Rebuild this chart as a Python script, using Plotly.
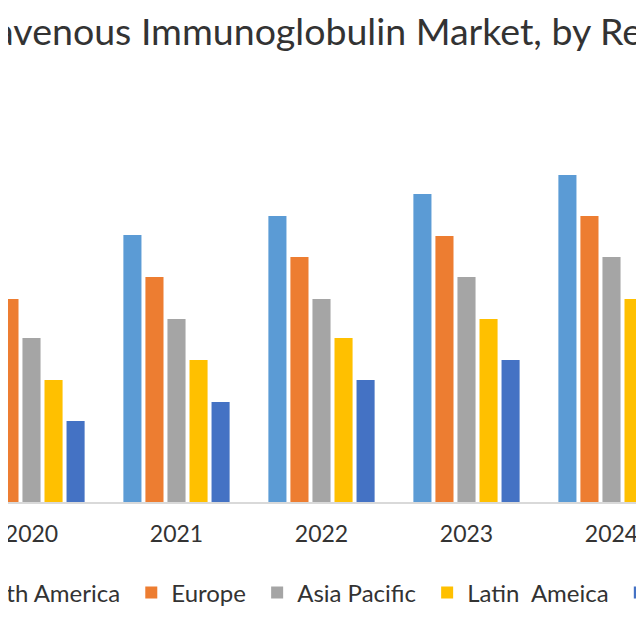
import plotly.graph_objects as go

years = [2020, 2021, 2022, 2023, 2024]
tick_labels = ["2020", "2021", "2022", "2023", "2024"]
north_america = [24.5, 26.7, 28.6, 30.8, 32.7]
europe = [20.3, 22.5, 24.5, 26.6, 28.6]
asia_pacific = [16.4, 18.3, 20.3, 22.5, 24.5]
latin_america = [12.2, 14.2, 16.4, 18.3, 20.3]
mea = [8.1, 10.0, 12.2, 14.2, 16.3]

series_names = ["North America", "Europe", "Asia Pacific", "Latin  Ameica", "Middle East & Africa"]
series_values = [north_america, europe, asia_pacific, latin_america, mea]
colors = ["#5B9BD5", "#ED7D31", "#A5A5A5", "#FFC000", "#4472C4"]

title_text = "Global Intravenous Immunoglobulin Market, by Region"
FONT = "Lato, 'Open Sans', sans-serif"
TXT = "#333333"

W, H = 1100, 636
fig = go.Figure()
for name, vals, col in zip(series_names, series_values, colors):
    fig.add_trace(go.Bar(x=years, y=vals, name=name + "\u00a0",
                         marker=dict(color=col, line=dict(width=0))))

x0 = 2020 - 23.5 / 145
fig.update_layout(
    width=W, height=H,
    margin=dict(l=0, r=0, t=72, b=142, autoexpand=False),
    paper_bgcolor="white", plot_bgcolor="white",
    barmode="group", bargap=0.24, bargroupgap=0.18,
    font=dict(family=FONT, color=TXT),
    showlegend=True,
    legend=dict(orientation="h", x=-82 / W, xanchor="left", y=-0.2156, yanchor="middle",
                font=dict(size=24, family=FONT, color=TXT), bgcolor="rgba(0,0,0,0)"),
    xaxis=dict(range=[x0, x0 + W / 145], tickmode="array", tickvals=years, ticktext=tick_labels,
               showline=True, linecolor="#D9D9D9", linewidth=2, showgrid=False, zeroline=False,
               ticks="", tickfont=dict(size=23, family=FONT, color=TXT), automargin=False,
               ticklabelstandoff=10, ticklabeloverflow="allow"),
    yaxis=dict(range=[0, 42.2], visible=False, showgrid=False, zeroline=False, automargin=False),
    annotations=[dict(text=title_text, xref="paper", yref="paper", x=-188 / W, y=1.117,
                      xanchor="left", yanchor="middle", showarrow=False,
                      font=dict(size=37.5, family=FONT, color=TXT))],
)
fig.write_html("out.html")
